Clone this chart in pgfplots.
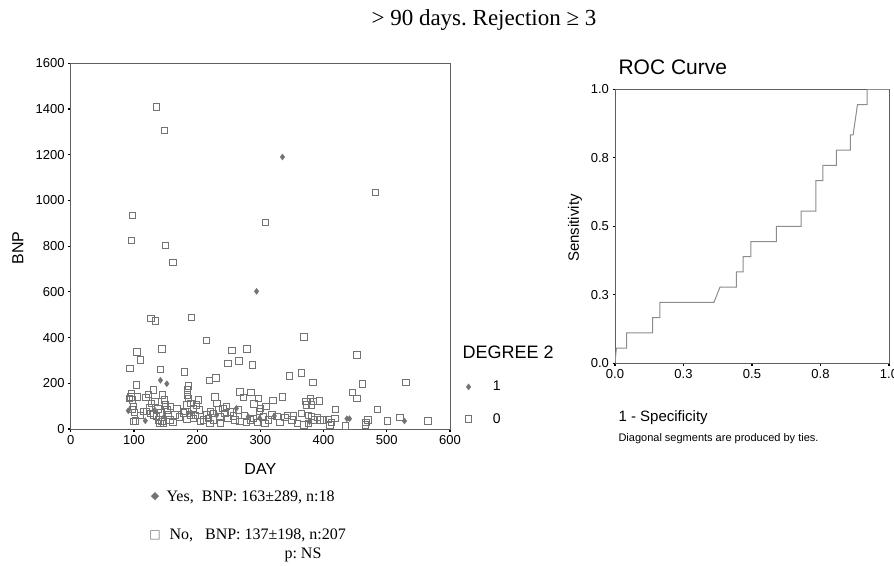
\documentclass[border=0pt]{standalone}
\usepackage{fontspec}
\setmainfont{Liberation Serif}
\newfontfamily\arialf{Liberation Sans}
\newfontfamily\symf{DejaVu Sans}
\usepackage{pgfplots}
\pgfplotsset{compat=1.18}
\definecolor{axisgray}{RGB}{95,95,95}
\definecolor{markgray}{RGB}{115,115,115}
\definecolor{rocgray}{RGB}{140,140,140}
\frenchspacing

\begin{document}
\begin{tikzpicture}
\path[use as bounding box] (0pt,0pt) rectangle (894pt,565pt);

% title
\node[font=\fontsize{23}{27}\selectfont] at (484pt,545pt) {> 90 days. Rejection ≥ 3};

% scatter: BNP against day
\begin{axis}[
  at={(70.7pt,136pt)}, anchor=south west,
  scale only axis, width=379.3pt, height=365.7pt,
  xmin=0, xmax=600, ymin=0, ymax=1600,
  xtick={0,100,...,600}, ytick={0,200,...,1600},
  tick pos=left, tick align=outside, major tick length=2.5pt,
  tick style={black, line width=1.2pt},
  axis line style={axisgray, line width=0.8pt},
  ticklabel style={font=\arialf\fontsize{13}{15}\selectfont},
  /pgf/number format/assume math mode=true,
  /pgf/number format/1000 sep={},
  xlabel={DAY}, ylabel={BNP},
  label style={font=\arialf\fontsize{16}{18}\selectfont},
  xlabel style={at={(axis description cs:0.5,-0.11)}, anchor=center},
  ylabel style={at={(axis description cs:-0.139,0.495)}, anchor=center},
  legend style={at={(1.04,0.071)}, anchor=west, draw=none, fill=none,
    inner sep=0pt, row sep=17pt, font=\arialf\fontsize{14}{16}\selectfont},
  legend cell align=left,
  /tikz/every odd column/.append style={column sep=19pt},
]
\addplot[only marks, mark=diamond*, mark size=3pt, draw=markgray, fill=markgray]
  coordinates {(335,1190)(294,602)(142,213)(152,198)(91,80)(118,36)(133,83)
  (148,54)(191,69)(231,61)(262,90)(281,54)(322,57)(299,47)(378,32)(437,45)
  (441,45)(528,35)};
\addlegendentry{1}
\addplot[only marks, mark=square, mark size=3.2pt, draw=markgray, line width=0.85pt]
  coordinates {(136,1410)(148,1305)(98,935)(96,824)(150,802)(162,729)(308,903)
  (482,1036)(127,484)(134,473)(191,487)(215,388)(369,403)(105,338)(110,302)
  (94,265)(144,350)(142,261)(255,344)(279,350)(249,286)(266,298)(287,281)
  (180,249)(346,233)(365,245)(453,324)(461,198)(530,203)(383,203)(104,193)
  (186,188)(219,213)(230,223)
  (95,141)(96,156)(93,134)(98,127)(99,98)(98,86)(101,73)(102,36)(99,32)
  (106,141)(119,139)(123,152)(131,171)(128,112)(133,120)(115,76)(120,76)
  (126,69)(131,61)(136,54)(139,39)(144,32)(141,25)(147,25)(145,149)(148,127)
  (150,105)(152,83)(155,61)(158,98)(162,28)(168,90)(165,61)
  (185,171)(185,149)(186,134)(184,105)(190,112)(194,90)(181,76)(190,61)
  (194,47)(184,42)(202,127)(199,105)(204,83)(205,32)
  (215,61)(218,47)(221,76)(226,69)(228,141)(231,112)(234,83)(236,54)(220,25)
  (237,25)(241,90)(244,69)(249,47)(226,39)
  (268,163)(273,139)(285,160)(290,109)(297,134)(265,83)(257,57)(268,32)
  (278,28)(284,39)(289,47)(299,76)(305,54)(307,25)(309,98)(320,124)(318,61)
  (326,54)
  (335,141)(339,50)(331,28)(352,57)(365,69)(359,25)(369,18)(373,105)(379,134)
  (381,105)(384,120)(393,123)(381,54)(386,39)(394,39)(376,25)
  (408,42)(410,18)(419,86)(418,47)(435,13)(446,160)(453,133)(467,28)(485,86)
  (501,35)(521,50)(565,35)
  (110,60)(125,95)(138,88)(143,70)(157,40)(172,52)(178,70)(197,60)(210,40)
  (246,100)(253,75)(260,40)(275,60)(295,30)(300,90)(313,40)(343,60)(350,40)
  (372,120)(376,60)(390,50)(400,40)(412,30)(466,18)(470,40)};
\addlegendentry{0}
\end{axis}

\node[anchor=west, font=\arialf\fontsize{18}{20}\selectfont] at (459pt,213pt) {DEGREE 2};

% ROC curve
\begin{axis}[
  at={(615pt,201.7pt)}, anchor=south west,
  scale only axis, width=274pt, height=274pt,
  xmin=0, xmax=1, ymin=0, ymax=1,
  xtick={0,0.25,0.5,0.75,1}, xticklabels={0.0,0.3,0.5,0.8,1.0},
  ytick={0,0.25,0.5,0.75,1}, yticklabels={0.0,0.3,0.5,0.8,1.0},
  tick pos=left, tick align=outside, major tick length=2.5pt,
  tick style={black, line width=1.2pt},
  axis line style={axisgray, line width=0.8pt},
  ticklabel style={font=\arialf\fontsize{13}{15}\selectfont},
  ylabel={Sensitivity},
  ylabel style={at={(axis description cs:-0.146,0.494)}, anchor=center,
    font=\arialf\fontsize{15}{17}\selectfont},
  xlabel={1 - Specificity},
  xlabel style={at={(axis description cs:0,-0.2)}, anchor=west,
    font=\arialf\fontsize{15}{17}\selectfont},
  title={ROC Curve},
  title style={at={(axis description cs:0,1.058)}, anchor=west,
    font=\arialf\fontsize{21}{24}\selectfont},
]
\addplot[rocgray, line width=1pt] coordinates {
  (0,0)(0.005,0.0556)(0.0425,0.0556)(0.0425,0.1111)(0.137,0.1111)(0.137,0.1667)
  (0.164,0.1667)(0.164,0.2222)(0.361,0.2222)(0.383,0.2778)(0.443,0.2778)
  (0.443,0.3333)(0.468,0.3333)(0.468,0.3889)(0.496,0.3889)(0.496,0.4444)
  (0.589,0.4444)(0.589,0.5)(0.679,0.5)(0.679,0.5556)(0.733,0.5556)
  (0.733,0.6667)(0.759,0.6667)(0.759,0.7222)(0.808,0.7222)(0.808,0.7778)
  (0.859,0.7778)(0.859,0.8333)(0.869,0.8333)(0.885,0.9444)(0.920,0.9444)
  (0.920,1)(1,1)};
\end{axis}

\node[anchor=west, font=\arialf\fontsize{11}{13}\selectfont] at (615pt,126pt)
  {Diagonal segments are produced by ties.};

% group summary below the scatter
\node[anchor=center, text=markgray, font=\symf\fontsize{11}{13}\selectfont] at (155pt,68pt) {◆};
\node[anchor=west, font=\fontsize{16}{18}\selectfont] at (163pt,68pt) {Yes,\ \ BNP: 163±289, n:18};
\node[anchor=center, text=markgray, font=\symf\fontsize{12}{14}\selectfont] at (155pt,30pt) {□};
\node[anchor=west, font=\fontsize{16}{18}\selectfont] at (166pt,30pt) {No,\ \ \ BNP: 137±198, n:207};
\node[anchor=west, font=\fontsize{16}{18}\selectfont] at (281pt,10pt) {p: NS};
\end{tikzpicture}
\end{document}
